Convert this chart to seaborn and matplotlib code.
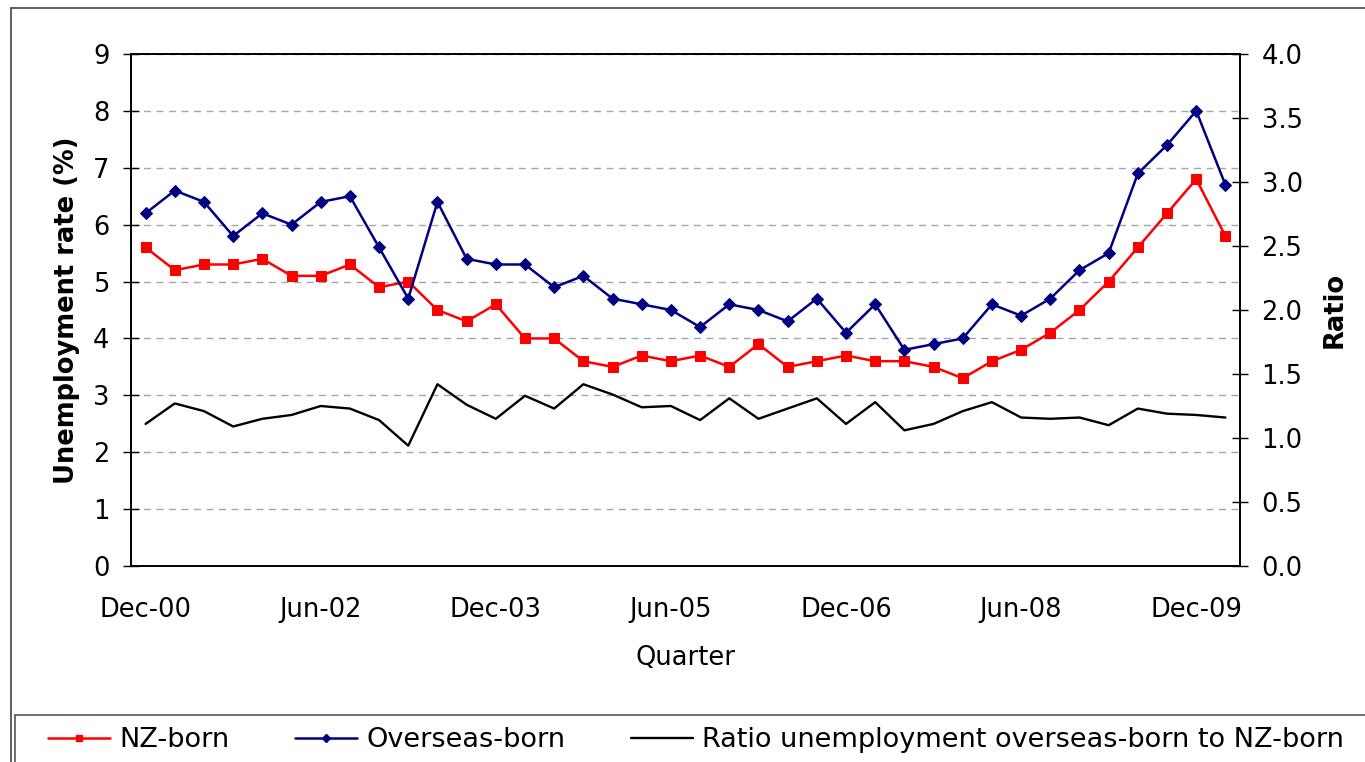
import matplotlib
matplotlib.use("Agg")
import matplotlib.pyplot as plt
from matplotlib.lines import Line2D
import seaborn as sns
import numpy as np
import pandas as pd

# ---- data ----
tick_labels = ["Dec-00", "Jun-02", "Dec-03", "Jun-05", "Dec-06", "Jun-08", "Dec-09"]
nz_born = [5.6, 5.2, 5.3, 5.3, 5.4, 5.1, 5.1, 5.3, 4.9, 5.0,
           4.5, 4.3, 4.6, 4.0, 4.0, 3.6, 3.5, 3.7, 3.6, 3.7,
           3.5, 3.9, 3.5, 3.6, 3.7, 3.6, 3.6, 3.5, 3.3, 3.6,
           3.8, 4.1, 4.5, 5.0, 5.6, 6.2, 6.8, 5.8]
overseas_born = [6.2, 6.6, 6.4, 5.8, 6.2, 6.0, 6.4, 6.5, 5.6, 4.7,
                 6.4, 5.4, 5.3, 5.3, 4.9, 5.1, 4.7, 4.6, 4.5, 4.2,
                 4.6, 4.5, 4.3, 4.7, 4.1, 4.6, 3.8, 3.9, 4.0, 4.6,
                 4.4, 4.7, 5.2, 5.5, 6.9, 7.4, 8.0, 6.7]
ratio = [1.11, 1.27, 1.21, 1.09, 1.15, 1.18, 1.25, 1.23, 1.14, 0.94,
         1.42, 1.26, 1.15, 1.33, 1.23, 1.42, 1.34, 1.24, 1.25, 1.14,
         1.31, 1.15, 1.23, 1.31, 1.11, 1.28, 1.06, 1.11, 1.21, 1.28,
         1.16, 1.15, 1.16, 1.10, 1.23, 1.19, 1.18, 1.16]

n = len(nz_born)
df = pd.DataFrame({"q": np.arange(n), "nz": nz_born, "os": overseas_born, "ratio": ratio})

sns.set_style("white")
plt.rcParams["font.family"] = ["DejaVu Sans"]
plt.rcParams["text.color"] = "black"
plt.rcParams["axes.labelcolor"] = "black"
plt.rcParams["xtick.color"] = "black"
plt.rcParams["ytick.color"] = "black"

fig = plt.figure(figsize=(13.65, 7.62), dpi=100)
ax = fig.add_axes([131/1365, 1-566/762, (1240-131)/1365, (566-54)/762])
ax2 = ax.twinx()

red = "#FF0000"
navy = "#000080"

sns.lineplot(data=df, x="q", y="nz", ax=ax, color=red, marker="s", markersize=7,
             markeredgecolor=red, linewidth=1.8, label="NZ-born", legend=False)
sns.lineplot(data=df, x="q", y="os", ax=ax, color=navy, marker="D", markersize=6.5,
             markeredgecolor=navy, linewidth=1.8, label="Overseas-born", legend=False)
sns.lineplot(data=df, x="q", y="ratio", ax=ax2, color="black", linewidth=1.7,
             label="Ratio unemployment overseas-born to NZ-born", legend=False)

ax.set_xlim(-0.5, n - 0.5)
ax.set_ylim(0, 9)
ax2.set_ylim(0, 4)
ax.set_yticks(range(0, 10))
ax2.set_yticks(np.arange(0, 4.01, 0.5))
ax2.set_yticklabels([f"{v:.1f}" for v in np.arange(0, 4.01, 0.5)])

# category labels every 6 quarters, tick marks at category boundaries
ax.set_xticks(np.arange(0, n, 6))
ax.set_xticklabels(tick_labels)
ax.set_xticks(np.arange(-0.5, n, 1), minor=True)
ax.tick_params(axis="x", which="major", length=0, pad=22, labelsize=18.5)
ax.tick_params(axis="x", which="minor", length=11, width=1, direction="inout", color="black")

ax.tick_params(axis="y", which="major", length=11, width=1, direction="inout",
               pad=10, labelsize=18.5, left=True, color="black")
ax2.tick_params(axis="y", which="major", length=11, width=1, direction="inout",
                pad=10, labelsize=18.5, right=True, color="black")

ax.yaxis.grid(True, color="#A6A6A6", linestyle=(0, (5, 4)), linewidth=1)
ax.xaxis.grid(False)
ax2.grid(False)

for a in (ax, ax2):
    for s in a.spines.values():
        s.set_visible(True)
        s.set_color("black")
        s.set_linewidth(1.2)

ax.set_xlabel("Quarter", fontsize=18.5, labelpad=16)
ax.set_ylabel("Unemployment rate (%)", fontsize=18.5, fontweight="bold", labelpad=9)
ax2.set_ylabel("Ratio", fontsize=18.5, fontweight="bold", labelpad=14)

# outer chart border and legend box
fig.add_artist(Line2D([11/1365, 11/1365], [0, 1-8/762], color="#444444", lw=1.2,
                      transform=fig.transFigure))
fig.add_artist(Line2D([11/1365, 1], [1-8/762, 1-8/762], color="#444444", lw=1.2,
                      transform=fig.transFigure))
fig.add_artist(Line2D([15/1365, 15/1365], [0, 1-715/762], color="#555555", lw=1.2,
                      transform=fig.transFigure))
fig.add_artist(Line2D([15/1365, 1], [1-715/762, 1-715/762], color="#555555", lw=1.2,
                      transform=fig.transFigure))

handles = [
    Line2D([], [], color=red, marker="s", markersize=5, linewidth=1.8),
    Line2D([], [], color=navy, marker="D", markersize=4.5, linewidth=1.8),
    Line2D([], [], color="black", linewidth=1.7),
]
labels = ["NZ-born", "Overseas-born", "Ratio unemployment overseas-born to NZ-born"]
fig.legend(handles, labels, loc="center left", bbox_to_anchor=(48/1365, 1-740/762),
           ncol=3, frameon=False, fontsize=19.5, handlelength=2.3, handletextpad=0.35,
           columnspacing=2.4, borderaxespad=0, borderpad=0)

fig.savefig("out.png", dpi=100)
